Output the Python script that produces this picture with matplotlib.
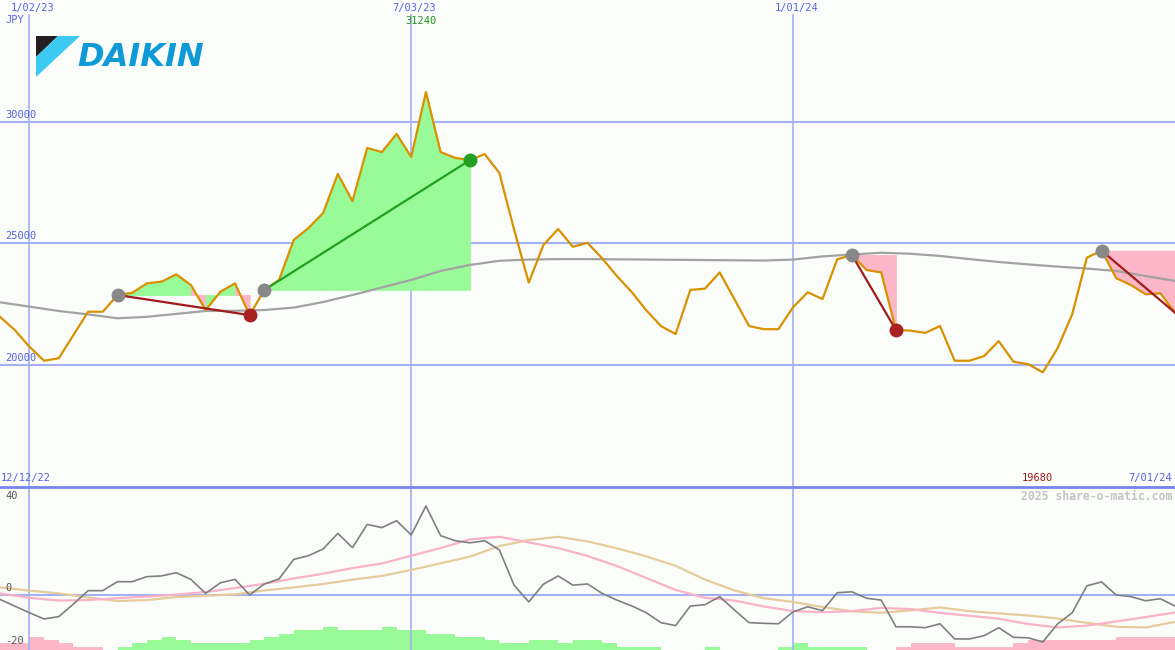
import numpy as np
import pandas as pd
import matplotlib
matplotlib.use('Agg')
import matplotlib.pyplot as plt
from matplotlib.patches import Polygon

# weekly closes, 19 Dec 2022 .. 1 Jul 2024
weeks = pd.date_range('2022-12-19', periods=81, freq='7D')
ma_weeks = weeks[::2]

price = [21970, 21430, 20740, 20160, 20260, 21220, 22180, 22180, 22870, 22960,
         23350, 23420, 23720, 23280, 22250, 23000, 23350, 22040, 23080, 23490,
         25140, 25630, 26250, 27860, 26740, 28930, 28760, 29510, 28560, 31240,
         28760, 28520, 28430, 28680, 27900, 25570, 23380, 24930, 25590, 24860,
         25020, 24380, 23650, 23000, 22240, 21590, 21260, 23080, 23130, 23800,
         22700, 21590, 21460, 21460, 22370, 22980, 22700, 24340, 24520, 23900,
         23800, 21430, 21400, 21310, 21590, 20160, 20160, 20350, 20970, 20120,
         20020, 19680, 20670, 22070, 24410, 24700, 23560, 23280, 22900, 22940,
         22140]

# long moving average (every 2nd week)
ma_long = [22570, 22390, 22210, 22070, 21910, 21970, 22090, 22210, 22220, 22250,
           22350, 22580, 22870, 23180, 23490, 23860, 24110, 24280, 24330, 24350,
           24350, 24340, 24330, 24320, 24310, 24300, 24290, 24330, 24460, 24540,
           24610, 24570, 24480, 24350, 24230, 24130, 24040, 23960, 23860, 23650,
           23450]

# lower panel
osc = [-1.9, -4.8, -7.7, -10.4, -9.4, -3.9, 1.9, 1.9, 5.8, 5.8,
       8.0, 8.3, 9.7, 6.8, 0.7, 5.3, 6.8, 0.0, 4.8, 7.0,
       15.5, 17.1, 20.0, 26.8, 20.6, 30.7, 29.3, 32.3, 26.1, 38.7,
       25.8, 23.6, 22.7, 23.6, 19.6, 4.3, -3.0, 4.7, 8.3, 4.3,
       4.8, 0.7, -2.2, -4.7, -7.7, -12.0, -13.3, -4.8, -4.2, -0.7,
       -6.5, -12.0, -12.3, -12.5, -7.3, -5.1, -6.8, 1.0, 1.4, -1.4,
       -2.2, -13.8, -13.8, -14.2, -12.5, -19.1, -19.1, -17.7, -14.2, -18.4,
       -18.6, -20.4, -12.6, -7.7, 4.0, 5.7, 0.0, -0.7, -2.5, -1.6,
       -4.8]
osc_fast = [0.7, -1.2, -2.4, -2.2, -1.4, -0.7, 0.2, 1.3, 3.0, 4.9,
            7.2, 9.3, 11.7, 13.7, 17.1, 20.4, 24.2, 25.3, 22.9, 20.4,
            17.0, 12.6, 7.4, 2.2, -1.2, -2.4, -5.0, -7.0, -7.5, -7.0,
            -5.6, -6.1, -7.8, -9.0, -10.3, -12.6, -14.1, -13.3, -11.5, -9.6,
            -7.6]
osc_slow = [3.3, 1.9, 0.7, -1.1, -2.6, -2.2, -0.9, -0.3, 0.3, 2.0,
            3.3, 4.8, 6.7, 8.3, 10.9, 13.8, 16.7, 21.3, 23.9, 25.3,
            23.3, 20.3, 16.8, 12.7, 6.7, 2.0, -1.4, -3.0, -5.2, -7.1,
            -7.7, -6.7, -5.4, -7.0, -8.0, -8.9, -10.2, -12.1, -13.8, -14.1,
            -11.7]
hist = [-2, -2, -4, -3, -2, -1, -1, 0, 1, 2,
        3, 4, 3, 2, 2, 2, 2, 3, 4, 5,
        6, 6, 7, 6, 6, 6, 7, 6, 6, 5,
        5, 4, 4, 3, 2, 2, 3, 3, 2, 3,
        3, 2, 1, 1, 1, 0, 0, 0, 1, 0,
        0, 0, 0, 1, 2, 1, 1, 1, 1, 0,
        0, -1, -2, -2, -2, -1, -1, -1, -1, -2,
        -3, -3, -3, -3, -3, -3, -4, -4, -4, -4,
        -4]

grid_dates = pd.to_datetime(['2023-01-02', '2023-07-03', '2024-01-01'])
grid_labels = ['1/02/23', '7/03/23', '1/01/24']
price_levels = [30000, 25000, 20000]
osc_levels = [40, 0, -20]
trade_open = [8, 18, 58, 75]
trade_close = [17, 32, 61, 80]

bg = '#fbfdfb'
gridc = '#a3b0f2'
blue_txt = '#5562e6'
green_fill = '#98fb98'
pink_fill = '#fbb6c8'
mono = 'DejaVu Sans Mono'

fig = plt.figure(figsize=(11.75, 6.5), dpi=100, facecolor=bg)
ax = fig.add_axes([0, 163 / 650, 1, 487 / 650])
ax2 = fig.add_axes([0, 0, 1, 163 / 650])
for a in (ax, ax2):
    a.set_facecolor(bg)
    a.set_xlim(weeks[0], weeks[-1])
    a.set_xticks([])
    a.set_yticks([])
    for s in a.spines.values():
        s.set_visible(False)
ax.set_ylim(14955, 35030)
ax2.set_ylim(-23.9, 46.96)

# grid
for lv in price_levels:
    ax.axhline(lv, color=gridc, lw=1.5, zorder=1)
    ax.annotate(str(lv), xy=(0, lv), xycoords=('axes fraction', 'data'),
                xytext=(5, 2), textcoords='offset pixels', ha='left', va='bottom',
                color=blue_txt, fontsize=7.5, family=mono)
for d, lab in zip(grid_dates, grid_labels):
    ax.axvline(d, ymin=0, ymax=(487 - 15) / 487, color=gridc, lw=1.2, zorder=1)
    ax2.axvline(d, color=gridc, lw=1.2, zorder=1)
    ax.annotate(lab, xy=(d, 1), xycoords=('data', 'axes fraction'),
                xytext=(3, -8), textcoords='offset pixels', ha='center', va='center',
                color=blue_txt, fontsize=7.5, family=mono)
ax.annotate('JPY', xy=(0, 1), xycoords='axes fraction', xytext=(5, -20),
            textcoords='offset pixels', ha='left', va='center',
            color=blue_txt, fontsize=7.5, family=mono)

# trades
for o, c in zip(trade_open, trade_close):
    base = price[o]
    for i in range(o, c):
        col = green_fill if price[i + 1] >= base else pink_fill
        ax.fill_between(weeks[i:i + 2], price[i:i + 2], base, facecolor=col,
                        edgecolor=col, lw=0.6, zorder=2)
    win = price[c] > base
    ax.plot([weeks[o], weeks[c]], [price[o], price[c]],
            color='#22a022' if win else '#a01c1c', lw=1.6, zorder=5)
    ax.plot(weeks[o], price[o], 'o', color='#888888', ms=9, zorder=6)
    if c < len(price) - 1:
        ax.plot(weeks[c], price[c], 'o', color='#22a022' if win else '#a82222',
                ms=9, zorder=6)

ax.plot(ma_weeks, ma_long, color='#a2a2a2', lw=1.6, zorder=3)
ax.plot(weeks, price, color='#d99100', lw=1.6, zorder=4)

imax = int(np.argmax(price))
imin = int(np.argmin(price))
ax.annotate(str(price[imax]), xy=(weeks[imax], 1), xycoords=('data', 'axes fraction'),
            xytext=(-5, -21), textcoords='offset pixels', ha='center', va='center',
            color='#1a961a', fontsize=7.5, family=mono)
ax.annotate(str(price[imin]), xy=(weeks[imin], 0), xycoords=('data', 'axes fraction'),
            xytext=(-5, 9), textcoords='offset pixels', ha='center', va='center',
            color='#a01818', fontsize=7.5, family=mono)
ax.annotate('12/12/22', xy=(0, 0), xycoords='axes fraction', xytext=(1, 9),
            textcoords='offset pixels', ha='left', va='center',
            color=blue_txt, fontsize=7.5, family=mono)
ax.annotate('7/01/24', xy=(1, 0), xycoords='axes fraction', xytext=(-3, 9),
            textcoords='offset pixels', ha='right', va='center',
            color=blue_txt, fontsize=7.5, family=mono)

# lower panel
axh = ax2.twinx()
axh.set_ylim(0, 50)
axh.set_yticks([])
for s in axh.spines.values():
    s.set_visible(False)
axh.bar(weeks, np.abs(hist), width=7, align='edge', lw=0,
        color=[green_fill if h > 0 else pink_fill for h in hist])
ax2.set_zorder(axh.get_zorder() + 1)
ax2.patch.set_visible(False)

ax2.axhline(0, color=gridc, lw=1.5, zorder=1)
ax2.spines['top'].set_visible(True)
ax2.spines['top'].set_color('#7884ee')
ax2.spines['top'].set_linewidth(2)
ax2.plot(ma_weeks, osc_slow, color='#e5cc9a', lw=1.6, zorder=3)
ax2.plot(ma_weeks, osc_fast, color='#f9b2c8', lw=1.6, zorder=3)
ax2.plot(weeks, osc, color='#7f7f7f', lw=1.2, zorder=4)

for lv, off in zip(osc_levels, [7, 7, 0]):
    ax2.annotate(str(lv), xy=(0, lv), xycoords=('axes fraction', 'data'),
                 xytext=(5, off), textcoords='offset pixels', ha='left', va='center',
                 color='#555555', fontsize=7.5, family=mono)
ax2.annotate('2025 share-o-matic.com', xy=(1, 1), xycoords='axes fraction',
             xytext=(-3, -9), textcoords='offset pixels', ha='right', va='center',
             color='#c4c4c4', fontsize=8.3, family=mono, fontweight='bold')

# logo
W, H = 1175, 650
def fp(pts):
    return [(x / W, 1 - y / H) for x, y in pts]
fig.patches.append(Polygon(fp([(36, 36), (58, 36), (36, 57)]), closed=True,
                           transform=fig.transFigure, color='#231f20', lw=0))
fig.patches.append(Polygon(fp([(58, 36), (80, 36), (36, 77), (36, 57)]), closed=True,
                           transform=fig.transFigure, color='#3ccaf2', lw=0))
fig.text(77 / W, 1 - 66 / H, 'DAIKIN', fontsize=23, fontweight='heavy', style='italic',
         color='#0e9ad6', ha='left', va='baseline', family='DejaVu Sans')

fig.savefig('out.png', dpi=100, facecolor=bg)
